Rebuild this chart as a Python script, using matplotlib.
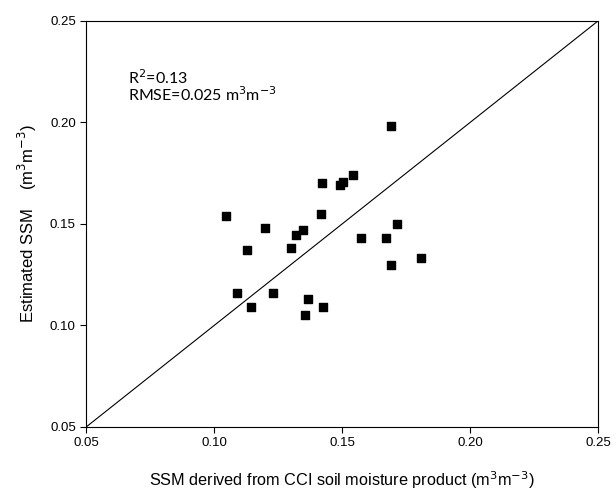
import numpy as np
import matplotlib.pyplot as plt

# CCI soil moisture (x) vs estimated SSM (y), m3/m3
cci_ssm = [0.1045, 0.1197, 0.113, 0.1318, 0.1348, 0.1301, 0.1088, 0.1142,
           0.1229, 0.1368, 0.1354, 0.1425, 0.169, 0.1544, 0.1423, 0.149,
           0.1504, 0.1416, 0.1715, 0.1573, 0.1671, 0.1692, 0.1809]
est_ssm = [0.154, 0.148, 0.137, 0.1447, 0.1469, 0.138, 0.1159, 0.109,
           0.1159, 0.1129, 0.105, 0.109, 0.198, 0.174, 0.170, 0.169,
           0.1705, 0.155, 0.150, 0.1431, 0.1431, 0.130, 0.133]

ticks = [0.05, 0.10, 0.15, 0.20, 0.25]

plt.rcParams['font.family'] = ['Liberation Sans', 'DejaVu Sans']

fig = plt.figure(figsize=(6.16, 4.97), dpi=100)
ax = fig.add_axes([0.140, 0.141, 0.831, 0.817])

# 1:1 line
ax.plot([0.05, 0.25], [0.05, 0.25], color='black', lw=0.8)
ax.scatter(cci_ssm, est_ssm, marker='s', s=30, color='black', zorder=3)

ax.set_xlim(0.05, 0.25)
ax.set_ylim(0.05, 0.25)
ax.set_xticks(ticks)
ax.set_yticks(ticks)
ax.set_xticklabels([f'{t:.2f}' for t in ticks])
ax.set_yticklabels([f'{t:.2f}' for t in ticks])
ax.tick_params(direction='out', length=4, width=0.8, labelsize=9.5,
               top=False, right=False)
for s in ax.spines.values():
    s.set_linewidth(0.8)

ax.set_xlabel('SSM derived from CCI soil moisture product (m$^3$m$^{-3}$)',
              fontsize=11.7, va='center')
ax.set_ylabel('Estimated SSM    (m$^3$m$^{-3}$)', fontsize=12, va='center')
ax.xaxis.set_label_coords(0.5, -0.13)
ax.yaxis.set_label_coords(-0.115, 0.5)

ax.text(0.0665, 0.222, 'R$^2$=0.13', fontsize=11.5, family='Lato',
        va='center')
ax.text(0.0665, 0.2135, 'RMSE=0.025 m$^3$m$^{-3}$', fontsize=11.5,
        family='Lato', va='center')

fig.savefig('out.png', dpi=100)
